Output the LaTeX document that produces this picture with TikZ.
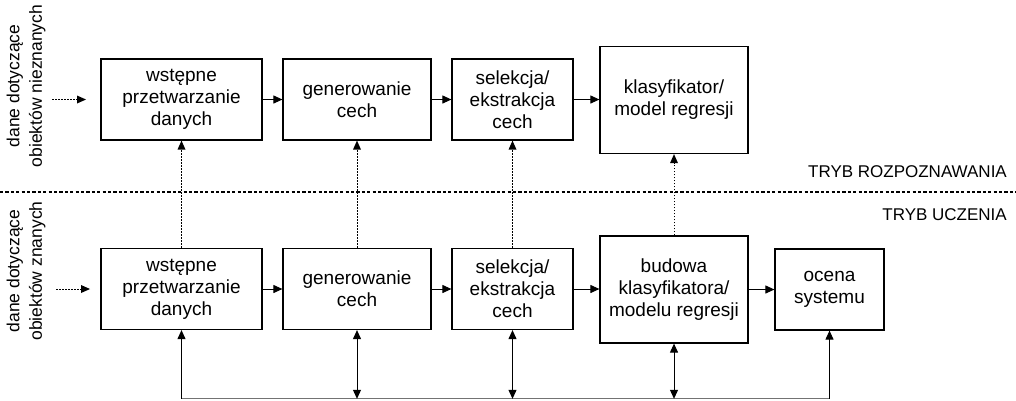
\documentclass[tikz,border=0pt]{standalone}
\usepackage{fontspec}
\setmainfont{Liberation Sans}
\usetikzlibrary{arrows.meta,calc}
\tikzset{
  box/.style={draw, line width=1.2pt, align=center, inner sep=0pt,
    font=\fontsize{19}{22}\selectfont},
  flow/.style={line width=1pt, -{Triangle[length=9pt,width=8pt]}},
  flowdot/.style={line width=1pt, dash pattern=on 1.5pt off 1.5pt, -{Triangle[length=9pt,width=8pt,line width=0pt]}},
  both/.style={line width=1pt, {Triangle[length=9pt,width=8pt]}-{Triangle[length=9pt,width=8pt]}},
  sidelabel/.style={rotate=90, align=center, font=\fontsize{17.5}{22.5}\selectfont},
  modelabel/.style={anchor=east, font=\fontsize{17}{20}\selectfont, inner sep=0pt}
}
\begin{document}
\begin{tikzpicture}[x=1pt,y=-1pt]
\useasboundingbox (0,0) rectangle (1016,400);
% top row
\node[box, minimum width=161, minimum height=81] (t1) at (181.5,99.5) {wstępne\\przetwarzanie\\danych};
\node[box, minimum width=148, minimum height=81] (t2) at (357,99.5) {generowanie\\cech};
\node[box, minimum width=121, minimum height=81] (t3) at (512.5,99.5) {selekcja/\\ekstrakcja\\cech};
\node[box, minimum width=148, minimum height=107] (t4) at (674,100) {klasyfikator/\\model regresji};
% bottom row
\node[box, minimum width=161, minimum height=81] (b1) at (181.5,289) {wstępne\\przetwarzanie\\danych};
\node[box, minimum width=148, minimum height=81] (b2) at (357,289) {generowanie\\cech};
\node[box, minimum width=121, minimum height=81] (b3) at (512.5,289) {selekcja/\\ekstrakcja\\cech};
\node[box, minimum width=148, minimum height=107] (b4) at (674,289.5) {budowa\\klasyfikatora/\\modelu regresji};
\node[box, minimum width=109, minimum height=81] (b5) at (829.5,289.5) {ocena\\systemu};
% side labels
\node[sidelabel] (lt) at (26,86) {dane dotyczące\\obiektów nieznanych};
\node[sidelabel] (lb) at (26,271) {dane dotyczące\\obiektów znanych};
% mode labels
\node[modelabel] (mr) at (1007,172) {TRYB ROZPOZNAWANIA};
\node[modelabel] (mu) at (1007,215) {TRYB UCZENIA};
% separator
\coordinate (sepL) at (0,192);
\coordinate (sepR) at (1016,192);
\draw[line width=1.6pt, dash pattern=on 3.2pt off 2.2pt] (sepL) -- (sepR);
% inputs
\coordinate (inT) at (52,99.5);
\coordinate (inTe) at (86,99.5);
\coordinate (inB) at (56,289);
\coordinate (inBe) at (90,289);
\draw[flowdot] (inT) -- (inTe);
\draw[flowdot] (inB) -- (inBe);
% horizontal flows
\draw[flow] (t1) -- (t2);
\draw[flow] (t2) -- (t3);
\draw[flow] (t3.east) -- (t3.east -| t4.west);
\draw[flow] (b1) -- (b2);
\draw[flow] (b2) -- (b3);
\draw[flow] (b3.east) -- (b3.east -| b4.west);
\draw[flow] (b4.east) -- (b4.east -| b5.west);
% vertical dotted
\draw[flowdot] (b1.north) -- (t1.south);
\draw[flowdot] (b2.north) -- (t2.south);
\draw[flowdot] (b3.north) -- (t3.south);
\draw[flowdot] (b4.north) -- (t4.south);
% bottom bus
\coordinate (base) at (0,398.8);
\coordinate (g1) at (b1.south |- base);
\coordinate (g2) at (b2.south |- base);
\coordinate (g3) at (b3.south |- base);
\coordinate (g4) at (b4.south |- base);
\coordinate (g5) at (b5.south |- base);
\draw[line width=1pt, black!55] (g1) -- (g5);
\draw[flow] (g1) -- (b1.south);
\draw[both] (g2) -- (b2.south);
\draw[both] (g3) -- (b3.south);
\draw[both] (g4) -- (b4.south);
\draw[flow] (g5) -- (b5.south);
\end{tikzpicture}
\end{document}
